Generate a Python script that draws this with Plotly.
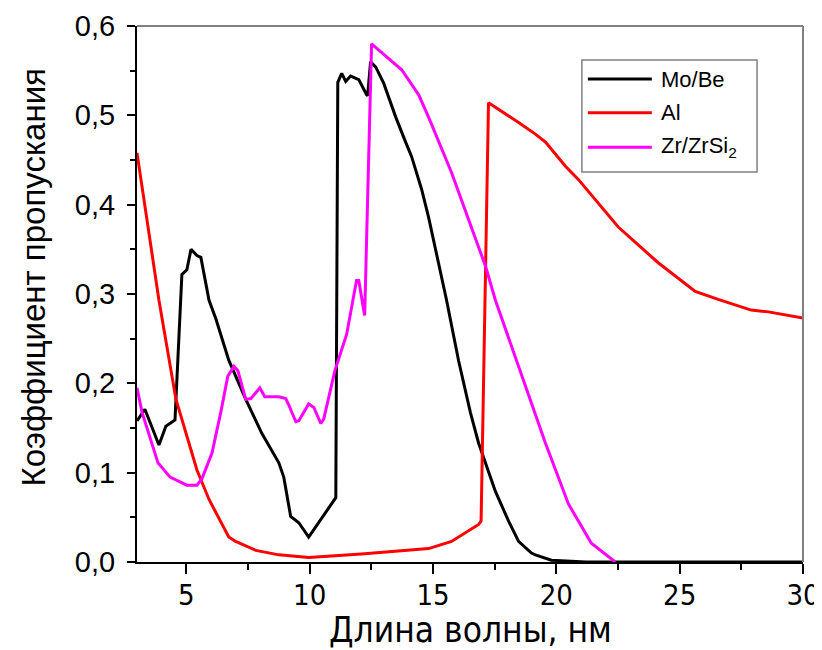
import plotly.graph_objects as go

# Mo/Be
mobe_x = [3.0, 3.32, 3.89, 4.17, 4.54, 4.82, 5.02, 5.19, 5.43, 5.59, 5.92, 6.2, 6.72, 7.41, 8.06, 8.75, 8.95,
          9.23, 9.56, 9.96, 11.06, 11.14, 11.3, 11.46, 11.66, 11.99, 12.31, 12.35, 12.47, 12.68, 13.0, 13.49,
          13.89, 14.13, 14.54, 14.82, 15.55, 16.04, 16.52, 16.85, 17.53, 18.06, 18.47, 18.99, 19.15, 19.8, 21.2, 30.0]
mobe_y = [0.158, 0.171, 0.131, 0.152, 0.159, 0.322, 0.327, 0.350, 0.343, 0.341, 0.293, 0.272, 0.226, 0.182, 0.144,
          0.111, 0.095, 0.051, 0.044, 0.028, 0.072, 0.537, 0.547, 0.538, 0.544, 0.540, 0.523, 0.522, 0.560, 0.554,
          0.536, 0.498, 0.470, 0.454, 0.417, 0.386, 0.293, 0.225, 0.167, 0.133, 0.079, 0.046, 0.023, 0.010, 0.008,
          0.002, 0.0, 0.0]

# Al
al_x = [3.0, 3.89, 4.58, 5.43, 5.92, 6.72, 7.0, 7.82, 8.75, 9.96, 12.1, 14.13, 14.82, 15.75, 16.85, 16.95, 17.25,
        18.47, 19.15, 19.56, 20.37, 20.9, 22.51, 24.13, 25.63, 26.56, 27.9, 28.6, 30.0]
al_y = [0.458, 0.293, 0.182, 0.103, 0.070, 0.028, 0.023, 0.013, 0.008, 0.005, 0.009, 0.013, 0.015, 0.023, 0.042,
        0.046, 0.514, 0.492, 0.479, 0.470, 0.443, 0.428, 0.375, 0.335, 0.303, 0.294, 0.282, 0.280, 0.273]

# Zr/ZrSi2
zr_x = [3.0, 3.2, 3.85, 4.34, 5.02, 5.43, 5.63, 6.04, 6.4, 6.68, 6.93, 7.09, 7.41, 7.62, 7.98, 8.18, 8.75, 9.03,
        9.15, 9.44, 9.56, 9.96, 10.17, 10.45, 10.57, 11.02, 11.5, 11.9, 11.99, 12.23, 12.51, 12.92, 13.73, 14.42,
        14.82, 15.75, 17.13, 17.53, 18.47, 19.56, 20.49, 21.42, 22.39]
zr_y = [0.195, 0.168, 0.111, 0.095, 0.086, 0.086, 0.093, 0.122, 0.168, 0.208, 0.219, 0.214, 0.182, 0.183, 0.195,
        0.185, 0.185, 0.183, 0.176, 0.157, 0.158, 0.177, 0.173, 0.155, 0.160, 0.214, 0.255, 0.315, 0.315, 0.276,
        0.580, 0.570, 0.551, 0.523, 0.498, 0.436, 0.331, 0.293, 0.218, 0.133, 0.065, 0.021, 0.0]

series_names = ["Mo/Be", "Al", "Zr/ZrSi<sub>2</sub>"]
series_colors = ["#000000", "#ff0000", "#ff00ff"]

x_ticks = [5, 10, 15, 20, 25, 30]
y_ticks = [0.0, 0.1, 0.2, 0.3, 0.4, 0.5, 0.6]
y_ticklabels = ["0,0", "0,1", "0,2", "0,3", "0,4", "0,5", "0,6"]

x_title = "Длина волны, нм"
y_title = "Коэффициент пропускания"

NARROW = "DejaVu Sans Condensed, Liberation Sans Narrow, Arial Narrow, sans-serif"
SANS = "Liberation Sans, Arial, sans-serif"

fig = go.Figure()
for xs, ys, nm, col in zip([mobe_x, al_x, zr_x], [mobe_y, al_y, zr_y], series_names, series_colors):
    fig.add_trace(go.Scatter(x=xs, y=ys, mode="lines", name=nm, showlegend=False,
                             line=dict(color=col, width=3)))

# frame (top/right) and manual legend (box, sample lines, labels) in paper coordinates
shapes = [
    dict(type="line", xref="paper", yref="paper", x0=0, x1=1, y0=1, y1=1,
         line=dict(color="#808080", width=2)),
    dict(type="line", xref="paper", yref="paper", x0=1, x1=1, y0=0, y1=1,
         line=dict(color="#808080", width=2)),
    dict(type="rect", xref="paper", yref="paper", x0=0.668, x1=0.931, y0=0.7276, y1=0.9366,
         line=dict(color="#808080", width=1.5), fillcolor="white", layer="above"),
]
annotations = []
row_y = [0.901, 0.838, 0.774]
for nm, col, ry in zip(series_names, series_colors, row_y):
    shapes.append(dict(type="line", xref="paper", yref="paper", x0=0.677, x1=0.773, y0=ry, y1=ry,
                       line=dict(color=col, width=3), layer="above"))
    annotations.append(dict(xref="paper", yref="paper", x=0.784, y=ry, text=nm, showarrow=False,
                            xanchor="left", yanchor="middle", font=dict(size=22, family=SANS, color="black")))

# axis titles
annotations.append(dict(xref="paper", yref="paper", x=-0.156, y=0.531, text=y_title, showarrow=False,
                        textangle=-90, xanchor="center", yanchor="middle",
                        font=dict(size=33, family=SANS, color="black")))
annotations.append(dict(xref="paper", yref="paper", x=0.5015, y=-0.127, text=x_title, showarrow=False,
                        xanchor="center", yanchor="middle", borderpad=0,
                        font=dict(size=35, family=NARROW, color="black")))

fig.update_layout(
    width=814, height=642,
    margin=dict(l=129, r=19, t=18, b=88),
    paper_bgcolor="white", plot_bgcolor="white",
    font=dict(family=SANS, color="black"),
    showlegend=False,
    shapes=shapes,
    annotations=annotations,
)

fig.update_xaxes(
    range=[3, 30], tickvals=x_ticks, ticktext=[str(v) for v in x_ticks],
    automargin=False,
    showgrid=False, zeroline=False,
    showline=True, linecolor="black", linewidth=2,
    ticks="outside", ticklen=10, tickwidth=2, tickcolor="black",
    minor=dict(dtick=2.5, tick0=0, ticks="outside", ticklen=6, tickwidth=2, tickcolor="black"),
    tickfont=dict(size=29, family=NARROW),
    ticklabelstandoff=-4,
)
fig.update_yaxes(
    range=[0, 0.6], tickvals=y_ticks, ticktext=y_ticklabels,
    automargin=False,
    showgrid=False, zeroline=False,
    showline=True, linecolor="black", linewidth=2,
    ticks="outside", ticklen=8, tickwidth=2, tickcolor="black",
    minor=dict(dtick=0.05, tick0=0, ticks="outside", ticklen=5, tickwidth=2, tickcolor="black"),
    tickfont=dict(size=29, family=SANS),
    ticklabelstandoff=6,
)

fig.write_html("out.html")
